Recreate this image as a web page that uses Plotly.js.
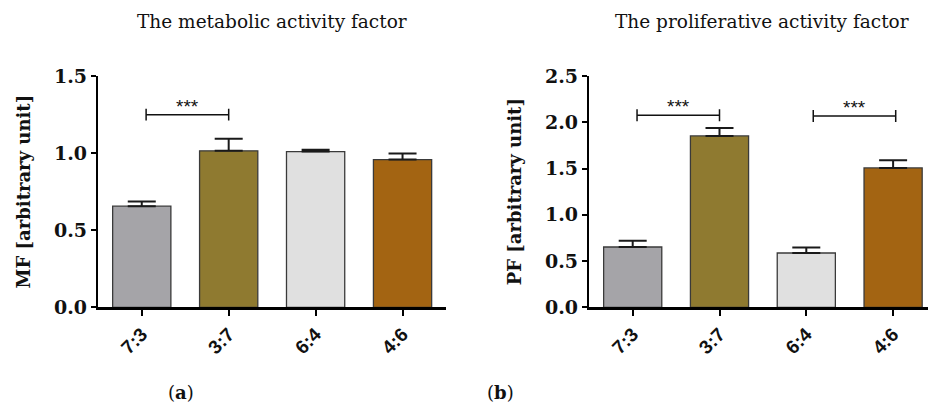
<!DOCTYPE html>
<html>
<head>
<meta charset="utf-8">
<script src="https://cdn.plot.ly/plotly-3.0.1.min.js"></script>
<style>html,body{margin:0;padding:0;background:#fff;}#chart{width:928px;height:403px;}</style>
</head>
<body>
<div id="chart"></div>
<script>
// ---- data ----
const categories = ["7:3", "3:7", "6:4", "4:6"];
const mfValues = [0.656, 1.015, 1.010, 0.958];
const mfErrors = [0.030, 0.078, 0.011, 0.039];
const pfValues = [0.652, 1.852, 0.587, 1.506];
const pfErrors = [0.068, 0.086, 0.058, 0.083];
const barColors = ["#a5a4a8", "#8f7a30", "#e0e0e0", "#a36412"];
// significance brackets: [from index, to index, height]
const mfSig = [[0.05, 1.0, 1.249]];
const pfSig = [[0.05, 1.0, 2.076], [2.08, 3.03, 2.068]];
const sigLabel = "***";

const serif = "DejaVu Serif, serif";
const sans = "Liberation Sans, Arial, sans-serif";

function barTrace(vals, errs, xa, ya) {
  return {
    type: "bar", x: categories, y: vals, xaxis: xa, yaxis: ya,
    width: 0.67,
    marker: {color: barColors, line: {color: "#3a3a3a", width: 1.3}},
    error_y: {type: "data", array: errs, arrayminus: errs.map(() => 0), symmetric: false,
              color: "#1a1a1a", thickness: 2, width: 14},
    hoverinfo: "skip", showlegend: false
  };
}

const shapes = [];
const annotations = [];
function addSig(list, xr, yr, tickH, starOff) {
  list.forEach(s => {
    const [a, b, h] = s;
    shapes.push({type: "line", xref: xr, yref: yr, x0: a, x1: b, y0: h, y1: h, line: {color: "#111", width: 1.5}});
    shapes.push({type: "line", xref: xr, yref: yr, x0: a, x1: a, y0: h - tickH, y1: h + tickH, line: {color: "#111", width: 1.5}});
    shapes.push({type: "line", xref: xr, yref: yr, x0: b, x1: b, y0: h - tickH, y1: h + tickH, line: {color: "#111", width: 1.5}});
    annotations.push({xref: xr, yref: yr, x: (a + b) / 2, y: h + starOff, text: sigLabel, showarrow: false,
                      xanchor: "center", yanchor: "middle", font: {family: sans, size: 19, color: "#111"}});
  });
}
addSig(mfSig, "x", "y", 0.038, 0.052);
addSig(pfSig, "x2", "y2", 0.065, 0.09);

function paperNote(px, py, text, size) {
  annotations.push({xref: "paper", yref: "paper", x: px / 928, y: 1 - py / 403, text: text, showarrow: false,
    xanchor: "center", yanchor: "middle", font: {family: serif, size: size, color: "#111"}});
}
paperNote(272, 21, "The metabolic activity factor", 18.5);
paperNote(762, 21, "The proliferative activity factor", 18.5);
paperNote(181, 392, "(<b>a</b>)", 18);
paperNote(501, 392, "(<b>b</b>)", 18);

const yDom = [(403 - 307.3) / 403, (403 - 76) / 403];
function xAxis(dom, range) {
  return {domain: dom, range: range, type: "category", showline: true, linecolor: "#000", linewidth: 2.5,
    ticks: "outside", ticklen: 6, tickwidth: 2, tickcolor: "#000", tickangle: -45,
    tickfont: {family: sans, size: 19, color: "#111", weight: "bold"}, showgrid: false, zeroline: false, fixedrange: true};
}
function yAxis(dom, range, dtick, title, anchor, standoff) {
  return {domain: dom, range: range, dtick: dtick, tickformat: ".1f", showline: true, linecolor: "#000", linewidth: 2.5,
    ticks: "outside", ticklen: 5, tickwidth: 2, tickcolor: "#000", anchor: anchor,
    tickfont: {family: serif, size: 19, color: "#111", weight: "bold"}, showgrid: false, zeroline: false,
    title: {text: title, font: {family: serif, size: 18, color: "#111", weight: "bold"}, standoff: standoff},
    fixedrange: true};
}

const layout = {
  width: 928, height: 403, margin: {l: 0, r: 0, t: 0, b: 0},
  paper_bgcolor: "#fff", plot_bgcolor: "#fff",
  xaxis: Object.assign(xAxis([98.3 / 928, 446 / 928], [-0.5, 3.5]), {anchor: "y"}),
  yaxis: yAxis(yDom, [0, 1.5], 0.5, "MF [arbitrary unit]", "x", 19),
  xaxis2: Object.assign(xAxis([589.3 / 928, 1], [-0.5, 3.402]), {anchor: "y2"}),
  yaxis2: yAxis(yDom, [0, 2.5], 0.5, "PF [arbitrary unit]", "x2", 19),
  shapes: shapes, annotations: annotations, bargap: 0.33
};

Plotly.newPlot("chart", [barTrace(mfValues, mfErrors, "x", "y"), barTrace(pfValues, pfErrors, "x2", "y2")], layout,
  {staticPlot: true, displayModeBar: false});
</script>
</body>
</html>
